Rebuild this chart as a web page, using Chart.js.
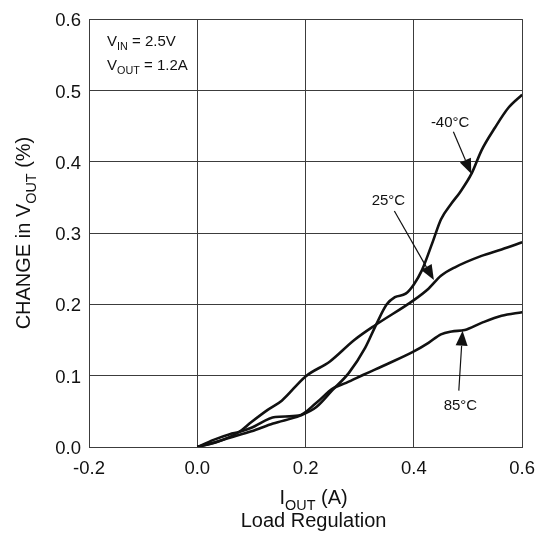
<!DOCTYPE html>
<html>
<head>
  <title>Load Regulation</title>
  <script src="https://cdn.jsdelivr.net/npm/chart.js"></script>
  <style>
    body {
      margin: 0;
      background: #ffffff;
    }
    #chart {
      display: block;
    }
  </style>
</head>
<body>
  <canvas id="chart" width="546" height="538"></canvas>

  <script>
    // data
    const xTicks = [-0.2, 0.0, 0.2, 0.4, 0.6];
    const yTicks = [0.0, 0.1, 0.2, 0.3, 0.4, 0.5, 0.6];

    const ioutM40 = [0, 0.03, 0.06, 0.1, 0.14, 0.19, 0.22, 0.25, 0.28, 0.31, 0.33, 0.35, 0.365, 0.385, 0.4, 0.415, 0.435, 0.45, 0.47, 0.485, 0.507, 0.525, 0.55, 0.575, 0.6];
    const dvM40   = [0, 0.006, 0.013, 0.022, 0.033, 0.044, 0.056, 0.08, 0.104, 0.139, 0.171, 0.2, 0.21, 0.215, 0.228, 0.248, 0.288, 0.319, 0.342, 0.357, 0.384, 0.416, 0.448, 0.476, 0.494];

    const iout25 = [0, 0.04, 0.077, 0.1, 0.13, 0.156, 0.2, 0.245, 0.29, 0.329, 0.4, 0.427, 0.45, 0.476, 0.525, 0.562, 0.6];
    const dv25   = [0, 0.008, 0.021, 0.035, 0.052, 0.065, 0.099, 0.12, 0.15, 0.171, 0.206, 0.222, 0.24, 0.252, 0.268, 0.277, 0.287];

    const iout85 = [0, 0.03, 0.06, 0.077, 0.1, 0.144, 0.187, 0.22, 0.25, 0.275, 0.309, 0.35, 0.4, 0.427, 0.45, 0.47, 0.494, 0.525, 0.562, 0.6];
    const dv85   = [0, 0.01, 0.018, 0.021, 0.027, 0.042, 0.044, 0.062, 0.082, 0.09, 0.102, 0.116, 0.134, 0.146, 0.158, 0.162, 0.164, 0.174, 0.184, 0.189];

    // curve labels: text spot, arrow tail and arrow tip in data units
    const labels = [
      { text: '-40°C', tx: 0.467, ty: 0.454, ax: 0.473, ay: 0.442, bx: 0.506, by: 0.383 },
      { text: '25°C',  tx: 0.353, ty: 0.345, ax: 0.364, ay: 0.331, bx: 0.437, by: 0.234 },
      { text: '85°C',  tx: 0.486, ty: 0.058, ax: 0.483, ay: 0.079, bx: 0.490, by: 0.163 }
    ];

    const FONT = "'Liberation Sans', Arial, sans-serif";

    function toPoints(xs, ys) {
      return xs.map((x, i) => ({ x: x, y: ys[i] }));
    }

    function curve(xs, ys) {
      return {
        data: toPoints(xs, ys),
        borderColor: '#111111',
        borderWidth: 2.6,
        pointRadius: 0,
        fill: false,
        cubicInterpolationMode: 'monotone'
      };
    }

    // draws text made of normal and subscript parts
    function richText(ctx, parts, x, y, size, align) {
      let total = 0;
      parts.forEach(p => {
        ctx.font = (p.sub ? size * 0.72 : size) + 'px ' + FONT;
        total += ctx.measureText(p.t).width;
      });
      let cx = align === 'center' ? x - total / 2 : x;
      ctx.textAlign = 'left';
      ctx.textBaseline = 'alphabetic';
      parts.forEach(p => {
        ctx.font = (p.sub ? size * 0.72 : size) + 'px ' + FONT;
        ctx.fillText(p.t, cx, p.sub ? y + size * 0.28 : y);
        cx += ctx.measureText(p.t).width;
      });
    }

    function arrow(ctx, x1, y1, x2, y2) {
      const ang = Math.atan2(y2 - y1, x2 - x1);
      const len = 15, half = 6;
      const bx = x2 - len * Math.cos(ang), by = y2 - len * Math.sin(ang);
      ctx.beginPath();
      ctx.moveTo(x1, y1);
      ctx.lineTo(bx, by);
      ctx.lineWidth = 1.2;
      ctx.stroke();
      ctx.beginPath();
      ctx.moveTo(x2, y2);
      ctx.lineTo(bx + half * Math.sin(ang), by - half * Math.cos(ang));
      ctx.lineTo(bx - half * Math.sin(ang), by + half * Math.cos(ang));
      ctx.closePath();
      ctx.fill();
    }

    const extras = {
      id: 'extras',
      afterDraw(chart) {
        const ctx = chart.ctx;
        const xs = chart.scales.x, ys = chart.scales.y;
        const area = chart.chartArea;
        ctx.save();
        ctx.fillStyle = '#111111';
        ctx.strokeStyle = '#111111';

        // conditions box
        richText(ctx, [{ t: 'V' }, { t: 'IN', sub: true }, { t: ' = 2.5V' }], area.left + 18, area.top + 27, 15, 'left');
        richText(ctx, [{ t: 'V' }, { t: 'OUT', sub: true }, { t: ' = 1.2A' }], area.left + 18, area.top + 51, 15, 'left');

        // curve labels with arrows
        labels.forEach(l => {
          ctx.font = '15px ' + FONT;
          ctx.textAlign = 'center';
          ctx.textBaseline = 'middle';
          ctx.fillText(l.text, xs.getPixelForValue(l.tx), ys.getPixelForValue(l.ty));
          arrow(ctx, xs.getPixelForValue(l.ax), ys.getPixelForValue(l.ay),
                xs.getPixelForValue(l.bx), ys.getPixelForValue(l.by));
        });

        // x axis titles
        const midX = (area.left + area.right) / 2 + 8;
        richText(ctx, [{ t: 'I' }, { t: 'OUT', sub: true }, { t: ' (A)' }], midX, 504, 20, 'center');
        ctx.font = '20px ' + FONT;
        ctx.textAlign = 'center';
        ctx.textBaseline = 'alphabetic';
        ctx.fillText('Load Regulation', midX, 527);

        // y axis title, rotated
        ctx.translate(30, (area.top + area.bottom) / 2);
        ctx.rotate(-Math.PI / 2);
        richText(ctx, [{ t: 'CHANGE in V' }, { t: 'OUT', sub: true }, { t: ' (%)' }], 0, 0, 20, 'center');
        ctx.restore();
      }
    };

    const fmt = v => (Math.abs(v) < 1e-9 ? 0 : v).toFixed(1);

    new Chart(document.getElementById('chart'), {
      type: 'line',
      data: {
        datasets: [curve(ioutM40, dvM40), curve(iout25, dv25), curve(iout85, dv85)]
      },
      options: {
        responsive: false,
        animation: false,
        layout: { padding: { left: 0, top: 14, right: 23, bottom: 0 } },
        plugins: {
          legend: { display: false },
          tooltip: { enabled: false }
        },
        scales: {
          x: {
            type: 'linear',
            min: xTicks[0],
            max: xTicks[xTicks.length - 1],
            afterFit: s => { s.height = 91; },
            afterBuildTicks: s => { s.ticks = xTicks.map(v => ({ value: v })); },
            ticks: {
              padding: 11,
              color: '#111111',
              font: { family: FONT, size: 18.5 },
              callback: fmt,
              maxRotation: 0
            },
            grid: { color: '#3c3c3c', lineWidth: 1, drawTicks: false },
            border: { color: '#3c3c3c' }
          },
          y: {
            min: yTicks[0],
            max: yTicks[yTicks.length - 1],
            afterFit: s => { s.width = 89; },
            afterBuildTicks: s => { s.ticks = yTicks.map(v => ({ value: v })); },
            ticks: {
              padding: 8,
              labelOffset: 2,
              color: '#111111',
              font: { family: FONT, size: 18.5 },
              callback: fmt
            },
            grid: { color: '#3c3c3c', lineWidth: 1, drawTicks: false },
            border: { color: '#3c3c3c' }
          }
        }
      },
      plugins: [extras]
    });
  </script>
</body>
</html>
